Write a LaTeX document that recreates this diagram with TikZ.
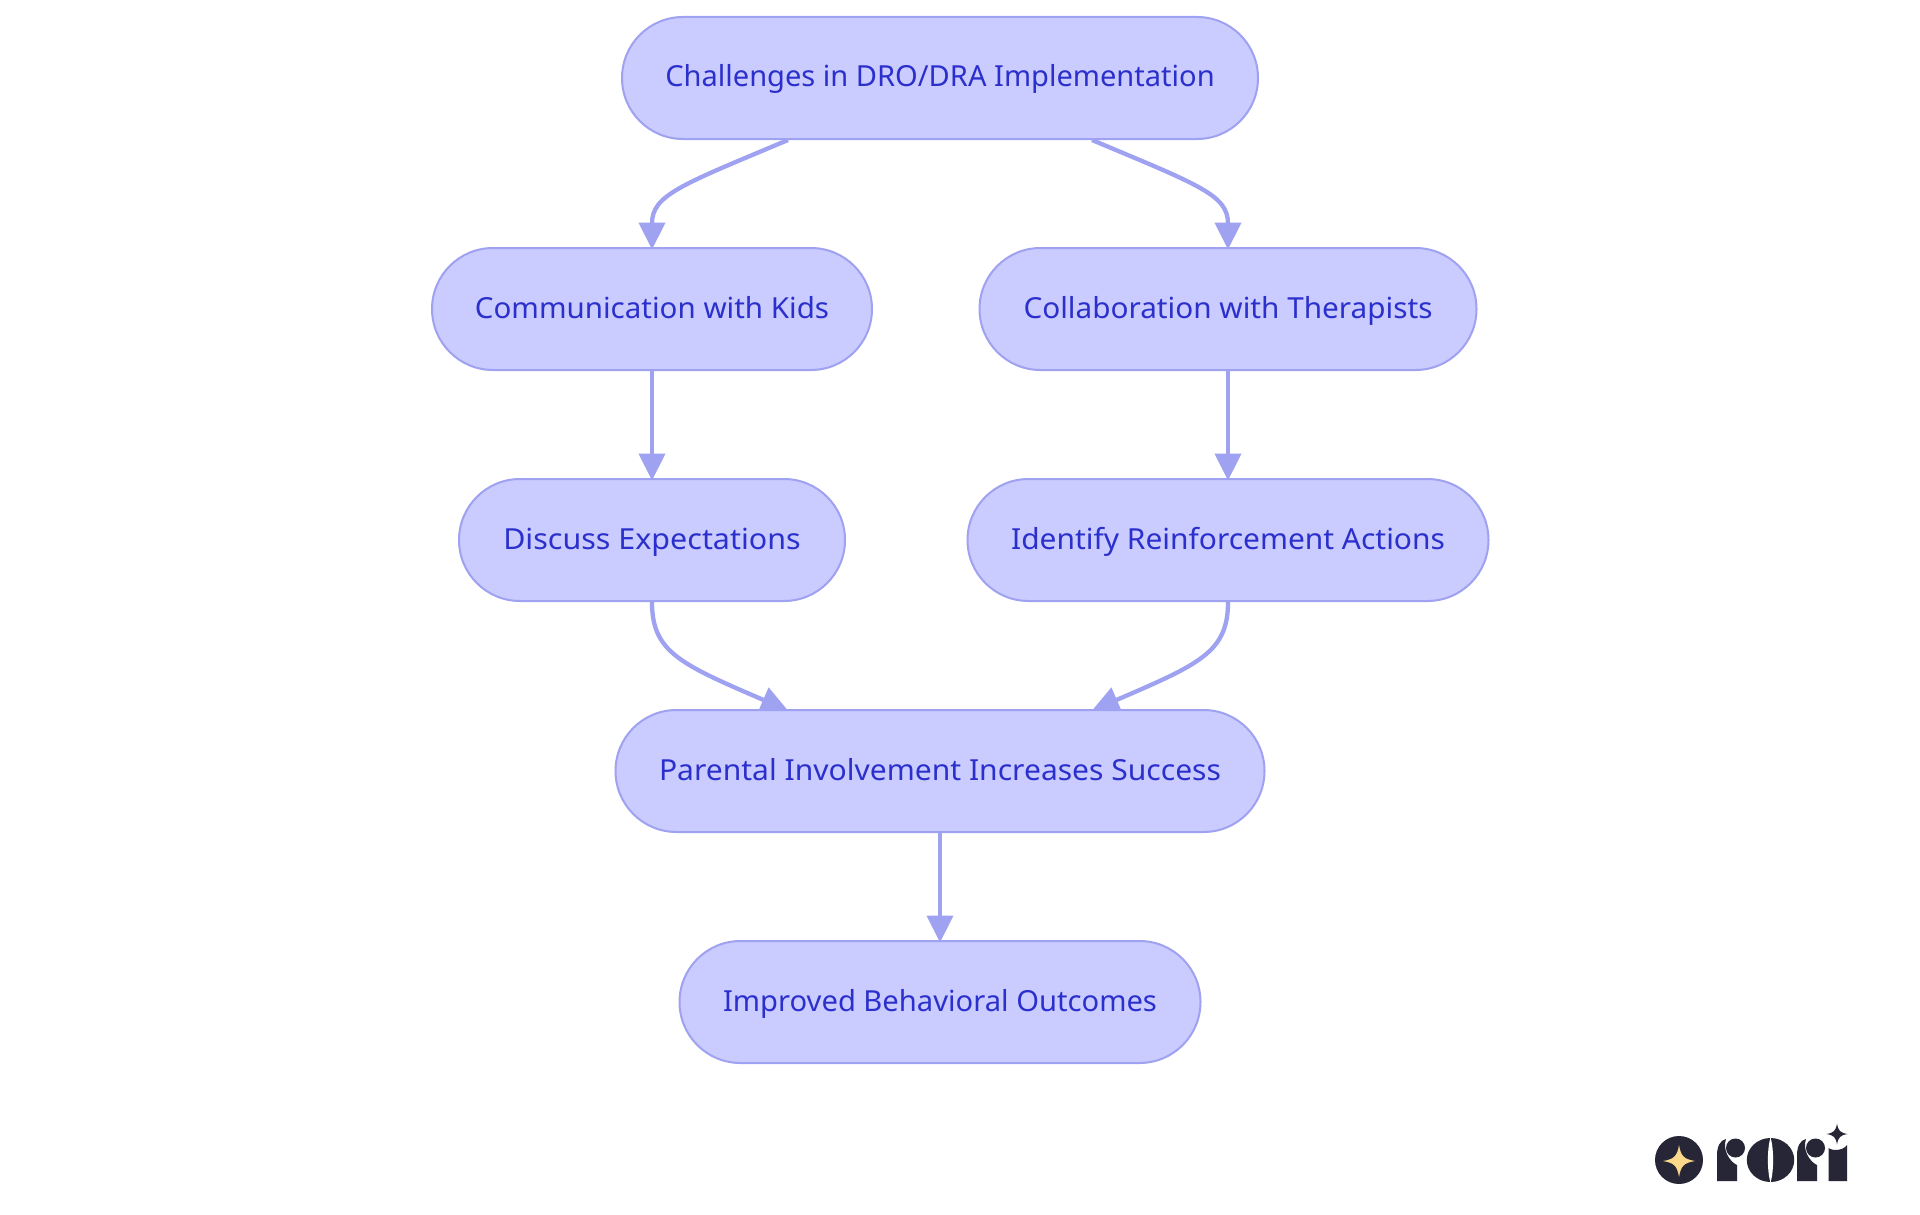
\documentclass[tikz,border=0pt]{standalone}
\usepackage{graphicx}
\usepackage{fontspec}
\setmainfont{Noto Sans}
\usetikzlibrary{arrows.meta,calc,backgrounds}
\definecolor{nfill}{HTML}{CACBFE}
\definecolor{nline}{HTML}{9FA1F1}
\definecolor{ntext}{HTML}{2B30CC}
\definecolor{logodark}{HTML}{272636}
\definecolor{logostar}{HTML}{FBD98A}
\tikzset{
  pill/.style={draw=nline,fill=nfill,line width=2pt,rounded corners=61pt,minimum height=122pt,inner sep=0pt,text=ntext,text height=26pt,text depth=8pt,font=\fontsize{29}{34}\selectfont,anchor=center},
  flow/.style={draw=nline,line width=4.3pt,-{Triangle[length=27pt,width=26pt]}},
  logoshape/.style={fill=logodark,draw=none},
  logoletter/.pic={
    \fill[logoshape] (37,61) -- (37,45) .. controls (30,42) and (22,30) .. (26,19) .. controls (20,20) and (17,27) .. (17,35) -- (17,61) -- cycle;
    \fill[logoshape] (35.5,28) circle[radius=9.5];
  },
}
\newcommand{\sparkle}[4]{\fill[#4] (#1-#3,#2) .. controls (#1-#3*0.3,#2-#3*0.12) and (#1-#3*0.12,#2-#3*0.3) .. (#1,#2-#3) .. controls (#1+#3*0.12,#2-#3*0.3) and (#1+#3*0.3,#2-#3*0.12) .. (#1+#3,#2) .. controls (#1+#3*0.3,#2+#3*0.12) and (#1+#3*0.12,#2+#3*0.3) .. (#1,#2+#3) .. controls (#1-#3*0.12,#2+#3*0.3) and (#1-#3*0.3,#2+#3*0.12) .. cycle;}
\begin{document}
\begin{tikzpicture}[x=1pt,y=-1pt]
\useasboundingbox (0,0) rectangle (1920,1215);
\node[pill,minimum width=636pt] (top) at (940,78) {\scalebox{1.002}[1]{Challenges in DRO/DRA Implementation}};
\node[pill,minimum width=440pt] (kids) at (652,309) {\scalebox{1.018}[1]{Communication with Kids}};
\node[pill,minimum width=497pt] (ther) at (1228,309) {\scalebox{1.025}[1]{Collaboration with Therapists}};
\node[pill,minimum width=386pt] (disc) at (652,540) {\scalebox{1.05}[1]{Discuss Expectations}};
\node[pill,minimum width=521pt] (iden) at (1228,540) {\scalebox{1.032}[1]{Identify Reinforcement Actions}};
\node[pill,minimum width=649pt] (par) at (940,771) {\scalebox{1.036}[1]{Parental Involvement Increases Success}};
\node[pill,minimum width=521pt] (imp) at (940,1002) {\scalebox{1.006}[1]{Improved Behavioral Outcomes}};
\begin{scope}[on background layer]
\fill[white] (0,0) rectangle (1920,1215);
\draw[flow] ($(top.south)+(-152,0)$) .. controls (681,185) and (652,195) .. ($(kids.north)+(0,2.5)$);
\draw[flow] ($(top.south)+(152,0)$) .. controls (1199,185) and (1228,195) .. ($(ther.north)+(0,2.5)$);
\draw[flow] (kids.south) -- ($(disc.north)+(0,2.5)$);
\draw[flow] (ther.south) -- ($(iden.north)+(0,2.5)$);
\draw[flow] (disc.south) .. controls (652,652) and (680,664) .. ($(par.north)+(-152,1.5)$);
\draw[flow] (iden.south) .. controls (1228,652) and (1200,664) .. ($(par.north)+(152,1.5)$);
\draw[flow] (par.south) -- ($(imp.north)+(0,2.5)$);
\end{scope}
% logo
\fill[logodark] (1679,1160) circle[radius=24];
\sparkle{1679}{1161}{16}{logostar}
\pic at (1700,1120) {logoletter};
\pic at (1780,1120) {logoletter};
\fill[logodark] (1770.5,1160) ellipse[x radius=23.7,y radius=22];
\fill[white] (1770.5,1137) .. controls (1774,1150) and (1774,1170) .. (1770.5,1183) .. controls (1767,1170) and (1767,1150) .. (1770.5,1137) -- cycle;
\fill[logodark] (1828.5,1181) -- (1828.5,1148) .. controls (1832,1151) and (1843,1151) .. (1847,1145) -- (1847,1181) -- cycle;
\sparkle{1837}{1134}{10.5}{logodark}
\end{tikzpicture}
\end{document}
